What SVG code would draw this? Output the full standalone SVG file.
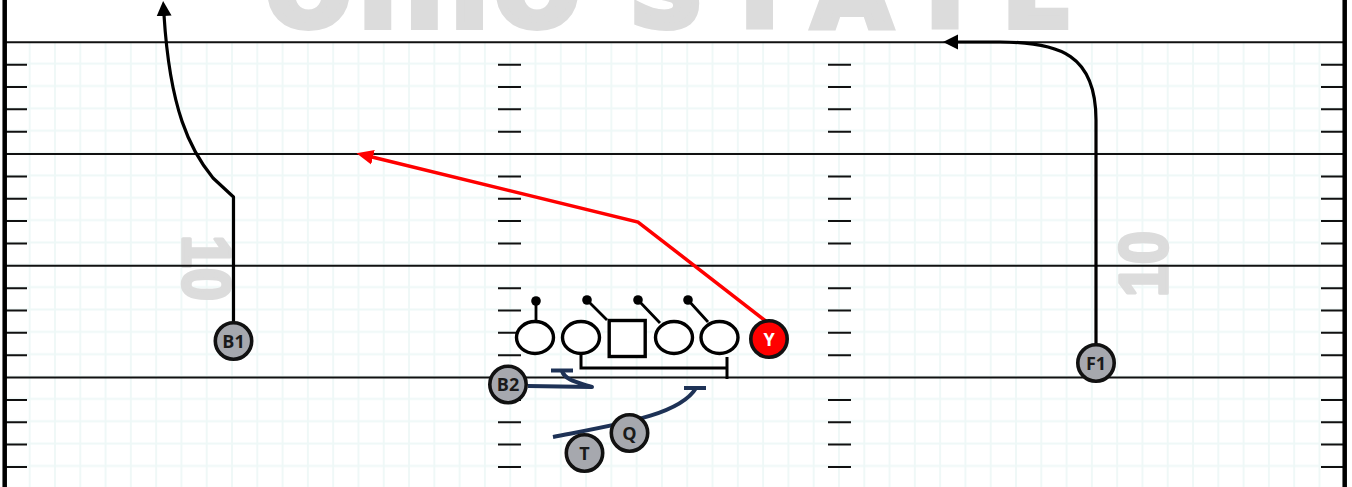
<svg xmlns="http://www.w3.org/2000/svg" width="1352" height="487" viewBox="0 0 1352 487">
<style>
.field{stroke:#111;stroke-width:2;fill:none}
.hash{stroke:#111;stroke-width:2;fill:none}
.side{stroke:#000;stroke-width:4.5;fill:none}
.wm{fill:#dcdcdc;font-family:"DejaVu Sans",sans-serif;font-weight:bold}
.num{fill:#dcdcdc;stroke:#dcdcdc;stroke-width:3.5;stroke-linejoin:round;font-family:"Liberation Sans",Arial,sans-serif;font-weight:bold;font-size:68px}
.route{fill:none;stroke:#000;stroke-width:3.2;stroke-linejoin:round}
.red{fill:none;stroke:#ff0000;stroke-width:3.5;stroke-linejoin:miter}
.navy{fill:none;stroke:#1e3256;stroke-width:4;stroke-linejoin:round}
.bar{fill:none;stroke:#000;stroke-width:3}
.pl{fill:#a6a8ae;stroke:#111;stroke-width:3.6}
.py{fill:#ff0000;stroke:#111;stroke-width:3.6}
.lb{font-family:"Open Sans","Noto Sans",sans-serif;font-weight:bold;font-size:18px;fill:#1a1a1a;text-anchor:middle}
.lw{fill:#fff}
.ol{fill:#fff;stroke:#000;stroke-width:3.4}
.pin{stroke:#000;stroke-width:2.8;fill:none}
</style>
<defs>
<pattern id="grid" patternUnits="userSpaceOnUse" x="-8.245" y="30.125" width="25.29" height="22.35">
<path d="M12.645,0 V22.35 M0,11.175 H25.29" stroke="#eef8f7" stroke-width="1.8" fill="none"/>
</pattern>
<marker id="ab" markerUnits="userSpaceOnUse" markerWidth="16" markerHeight="16" refX="1" refY="7.5" orient="auto" viewBox="0 0 16 15">
<path d="M0,0 L15,7.5 L0,15 z" fill="#000"/>
</marker>
<marker id="ar" markerUnits="userSpaceOnUse" markerWidth="18" markerHeight="16" refX="1" refY="7.5" orient="auto" viewBox="0 0 18 15">
<path d="M0,0 L17,7.5 L0,15 z" fill="#ff0000"/>
</marker>
</defs>
<rect width="1352" height="487" fill="#fff"/>
<g id="field">
<rect x="5" y="42.3" width="1339" height="445" fill="url(#grid)"/>
<text class="wm" font-size="100" stroke="#dcdcdc" stroke-width="8" text-anchor="middle" y="26" x="308.5 401 469.5 537 600 666.5 759.5 852 945 1037.5">OHIO STATE</text>
<text class="num" transform="translate(207,268) rotate(90)" x="0" y="24" text-anchor="middle" textLength="66" lengthAdjust="spacingAndGlyphs">10</text>
<text class="num" transform="translate(1142.5,264) rotate(-90)" x="0" y="24" text-anchor="middle" textLength="66" lengthAdjust="spacingAndGlyphs">10</text>
<path class="field" d="M6,42.3 H1343 M6,154.05 H1343 M6,265.8 H1343 M6,377.55 H1343"/>
<path class="hash" d="M6,64.65 H27 M6,87 H27 M6,109.35 H27 M6,131.7 H27 M6,176.4 H27 M6,198.75 H27 M6,221.1 H27 M6,243.45 H27 M6,288.15 H27 M6,310.5 H27 M6,332.85 H27 M6,355.2 H27 M6,399.9 H27 M6,422.25 H27 M6,444.6 H27 M6,466.95 H27"/>
<path class="hash" d="M498,64.65 H521 M498,87 H521 M498,109.35 H521 M498,131.7 H521 M498,176.4 H521 M498,198.75 H521 M498,221.1 H521 M498,243.45 H521 M498,288.15 H521 M498,310.5 H521 M498,332.85 H521 M498,355.2 H521 M498,399.9 H521 M498,422.25 H521 M498,444.6 H521 M498,466.95 H521"/>
<path class="hash" d="M828,64.65 H851 M828,87 H851 M828,109.35 H851 M828,131.7 H851 M828,176.4 H851 M828,198.75 H851 M828,221.1 H851 M828,243.45 H851 M828,288.15 H851 M828,310.5 H851 M828,332.85 H851 M828,355.2 H851 M828,399.9 H851 M828,422.25 H851 M828,444.6 H851 M828,466.95 H851"/>
<path class="hash" d="M1321,64.65 H1343 M1321,87 H1343 M1321,109.35 H1343 M1321,131.7 H1343 M1321,176.4 H1343 M1321,198.75 H1343 M1321,221.1 H1343 M1321,243.45 H1343 M1321,288.15 H1343 M1321,310.5 H1343 M1321,332.85 H1343 M1321,355.2 H1343 M1321,399.9 H1343 M1321,422.25 H1343 M1321,444.6 H1343 M1321,466.95 H1343"/>
<path class="side" d="M4.7,0 V487 M1344.7,0 V487"/>
</g>
<g id="connectors">
<path class="route" d="M233.5,322 V197 L213,178 C190,150 170,110 164,15" marker-end="url(#ab)"/>
<path class="route" d="M1096,344 V120 C1096,55 1060,42 1000,42 H957" marker-end="url(#ab)"/>
<path class="red" d="M767,322 L638,222 L372,157" marker-end="url(#ar)"/>
<path class="navy" d="M528,386 L592,387 C576,382 565,380 562,371"/>
<path class="navy" d="M551,370.5 H573"/>
<path class="navy" d="M553,437 C620,424 680,415 696,388"/>
<path class="navy" d="M684,388 H706"/>
<path class="pin" d="M536,301 V321 M587,300 L607,320 M638,300 L660,323 M688,300 L708,322"/>
<path class="bar" d="M581,354 V368 H727 M727,357 V379"/>
</g>
<g id="pins">
<circle cx="536" cy="301" r="4.8"/>
<circle cx="587" cy="300" r="4.8"/>
<circle cx="638" cy="300" r="4.8"/>
<circle cx="688" cy="300" r="4.8"/>
</g>
<g id="LT"><ellipse class="ol" cx="535" cy="337.5" rx="18.5" ry="16"/></g>
<g id="LG"><ellipse class="ol" cx="581" cy="337.5" rx="18.5" ry="16"/></g>
<g id="C"><rect class="ol" x="609.2" y="320.5" width="36" height="36"/></g>
<g id="RG"><ellipse class="ol" cx="674" cy="337.5" rx="18.5" ry="16"/></g>
<g id="RT"><ellipse class="ol" cx="719.5" cy="337.5" rx="18.5" ry="16"/></g>
<g id="Y"><circle class="py" cx="769" cy="339" r="18.2"/><text class="lb lw" x="769" y="345.5">Y</text></g>
<g id="B1"><circle class="pl" cx="233.5" cy="341" r="18.2"/><text class="lb" x="233.5" y="347.5">B1</text></g>
<g id="F1"><circle class="pl" cx="1096" cy="363" r="18.2"/><text class="lb" x="1096" y="369.5">F1</text></g>
<g id="B2"><circle class="pl" cx="508" cy="384.5" r="18.2"/><text class="lb" x="508" y="391">B2</text></g>
<g id="Q"><circle class="pl" cx="629.5" cy="433" r="18.2"/><text class="lb" x="629.5" y="439.5">Q</text></g>
<g id="T"><circle class="pl" cx="584.5" cy="453" r="18.2"/><text class="lb" x="584.5" y="459.5">T</text></g>
</svg>
